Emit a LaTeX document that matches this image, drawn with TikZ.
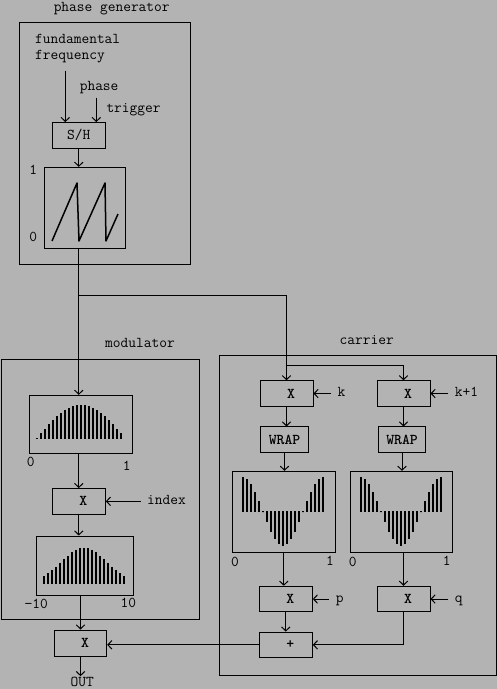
\documentclass[tikz,border=0pt]{standalone}
\usetikzlibrary{arrows.meta}
\definecolor{panel}{RGB}{179,179,179}
\begin{document}
\begin{tikzpicture}[x = 1pt, y = -1pt, line width = 1pt,
    >= {Straight Barb[length = 4pt, width = 8.5pt]},
    font = \ttfamily\fontsize{15}{18}\selectfont,
    box/.style = {draw, inner sep = 0pt, minimum width = 53pt, minimum height = 25.5pt},
    op/.style = {box, font = \ttfamily\bfseries\fontsize{15}{18}\selectfont, execute at begin node = \hspace{9pt}},
    plotbox/.style = {draw, inner sep = 0pt},
    inlabel/.style = {anchor = west, inner xsep = 6pt, inner ysep = 0pt, text height = 9pt, text depth = 3pt},
    tag/.style = {inner sep = 0pt, anchor = base}]
  \useasboundingbox (0, 0) rectangle (497, 689);
  \fill [panel] (0, 0) rectangle (497, 689);
  \draw (19.3, 22.3) rectangle (190, 264.3);
  \draw (1, 359.3) rectangle (199, 619.3);
  \draw (219.3, 355) rectangle (496, 675);
  \node (pgtitle) [tag] at (111.7, 11) {phase generator};
  \node (modtitle) [tag] at (140, 347) {modulator};
  \node (cartitle) [tag] at (366.7, 344) {carrier};
  \node (fund) [tag, anchor = base west] at (34.7, 43.3) {fundamental};
  \node (freq) [tag, anchor = base west] at (34.7, 59.3) {frequency};
  \node (phase) [tag, anchor = base west] at (79.3, 90) {phase};
  \node (trigger) [tag, anchor = base west] at (106, 112.3) {trigger};
  \coordinate (ffin) at (65.3, 70.7);
  \coordinate (trig) at (96.3, 97.7);
  \node (sh) [box] at (78.8, 135.3) {S/H};
  \node (saw) [plotbox, minimum width = 81.4pt, minimum height = 81pt] at (85, 207.8) {};
  \node (sawhi) [tag] at (33.3, 174) {1};
  \node (sawlo) [tag] at (33.3, 241.3) {0};
  \draw [line width = 1.5pt, line join = round] (52, 241) -- (77, 183) -- (79, 241) -- (105, 183) -- (106, 241) -- (118, 214);
  \draw [->] (ffin) -- (ffin |- sh.north);
  \draw [->] (trig) -- (trig |- sh.north);
  \draw [->] (sh.south) -- (sh.south |- saw.north);
  \node (modA) [plotbox, minimum width = 103pt, minimum height = 58pt] at (80.8, 424.3) {};
  \node (modAlo) [tag] at (30.7, 466.7) {0};
  \node (modAhi) [tag] at (126.7, 470) {1};
  \foreach \n in {0, ..., 21}
    \fill ({36.3 + 4 * \n}, 439.2) rectangle ++(2, {-1 - 33.7 * sin(180 * \n / 22)});
  \node (xi) [op] at (78.8, 501.3) {X};
  \node (index) [inlabel] at (140.7, 501.3) {index};
  \node (modB) [plotbox, minimum width = 97.4pt, minimum height = 59pt] at (85, 565.5) {};
  \node (modBlo) [tag] at (36.3, 608.3) {−10};
  \node (modBhi) [tag] at (128.3, 607.7) {10};
  \foreach \n in {0, ..., 20}
    \fill ({43 + 4 * \n}, 583.5) rectangle ++(2, {-0.5 - 35.3 * exp(-(\n - 10) * (\n - 10) / 64)});
  \node (outx) [op, minimum width = 52.4pt, minimum height = 26pt] at (80.5, 643) {X};
  \node (out) [tag] at (82.3, 686) {OUT};
  \coordinate (split) at (79.3, 295);
  \coordinate (fork) at (286.5, 365);
  \draw [->] (sh |- saw.south) -- (sh |- modA.north);
  \draw [->] (xi |- modA.south) -- (xi.north);
  \draw [->] (xi.south) -- (xi.south |- modB.north);
  \draw [->] (outx |- modB.south) -- (outx.north);
  \draw [->] (outx.south) -- (outx.south |- out.north);
  \draw [->] (index.west) -- (xi.east);
  \node (xk) [op] at (286.5, 393.5) {X};
  \node (xk1) [op] at (403.5, 393.5) {X};
  \node (k) [inlabel] at (331, 393.5) {k};
  \node (k1) [inlabel] at (448.3, 393.5) {k+1};
  \node (wk) [box, font = \ttfamily\bfseries\fontsize{15}{18}\selectfont, minimum width = 48.4pt] at (284.5, 439.7) {WRAP};
  \node (wk1) [box, font = \ttfamily\bfseries\fontsize{15}{18}\selectfont, minimum width = 47.4pt] at (402, 439.7) {WRAP};
  \node (plotk) [plotbox, minimum width = 103pt, minimum height = 81pt] at (283.8, 511.8) {};
  \node (plotk1) [plotbox, minimum width = 102pt, minimum height = 81pt] at (401.3, 511.8) {};
  \node (plotklo) [tag] at (235, 566) {0};
  \node (plotkhi) [tag] at (330, 565.3) {1};
  \node (plotk1lo) [tag] at (352.7, 566) {0};
  \node (plotk1hi) [tag] at (446.7, 565.3) {1};
  \foreach \n in {0, ..., 20} {
    \fill ({241.7 + 4 * \n}, 511.2) rectangle ++(2, 1);
    \fill ({241.7 + 4 * \n}, 511.7) rectangle ++(2, {-34.3 * cos(18 * \n)});
    \fill ({359.7 + 4 * \n}, 511.2) rectangle ++(2, 1);
    \fill ({359.7 + 4 * \n}, 511.7) rectangle ++(2, {-34.3 * cos(18 * \n)});
  }
  \node (xp) [op] at (285.8, 599) {X};
  \node (xq) [op] at (403.5, 599) {X};
  \node (p) [inlabel] at (329.3, 599) {p};
  \node (q) [inlabel] at (448.3, 599) {q};
  \node (plus) [op] at (285.8, 644.8) {+};
  \draw [->] (split) -| (xk.north);
  \draw [->] (fork) -| (xk1.north);
  \draw [->] (k.west) -- (xk.east);
  \draw [->] (k1.west) -- (xk1.east);
  \draw [->] (xk.south) -- (xk.south |- wk.north);
  \draw [->] (xk1.south) -- (xk1.south |- wk1.north);
  \draw [->] (wk.south) -- (wk.south |- plotk.north);
  \draw [->] (wk1.south) -- (wk1.south |- plotk1.north);
  \draw [->] (plotk.south) -- (plotk.south |- xp.north);
  \draw [->] (xq |- plotk1.south) -- (xq.north);
  \draw [->] (p.west) -- (xp.east);
  \draw [->] (q.west) -- (xq.east);
  \draw [->] (xp.south) -- (xp.south |- plus.north);
  \draw [->] (xq.south) |- (plus.east);
  \draw [->] (plus.west) -- (plus.west -| outx.east);
\end{tikzpicture}
\end{document}
